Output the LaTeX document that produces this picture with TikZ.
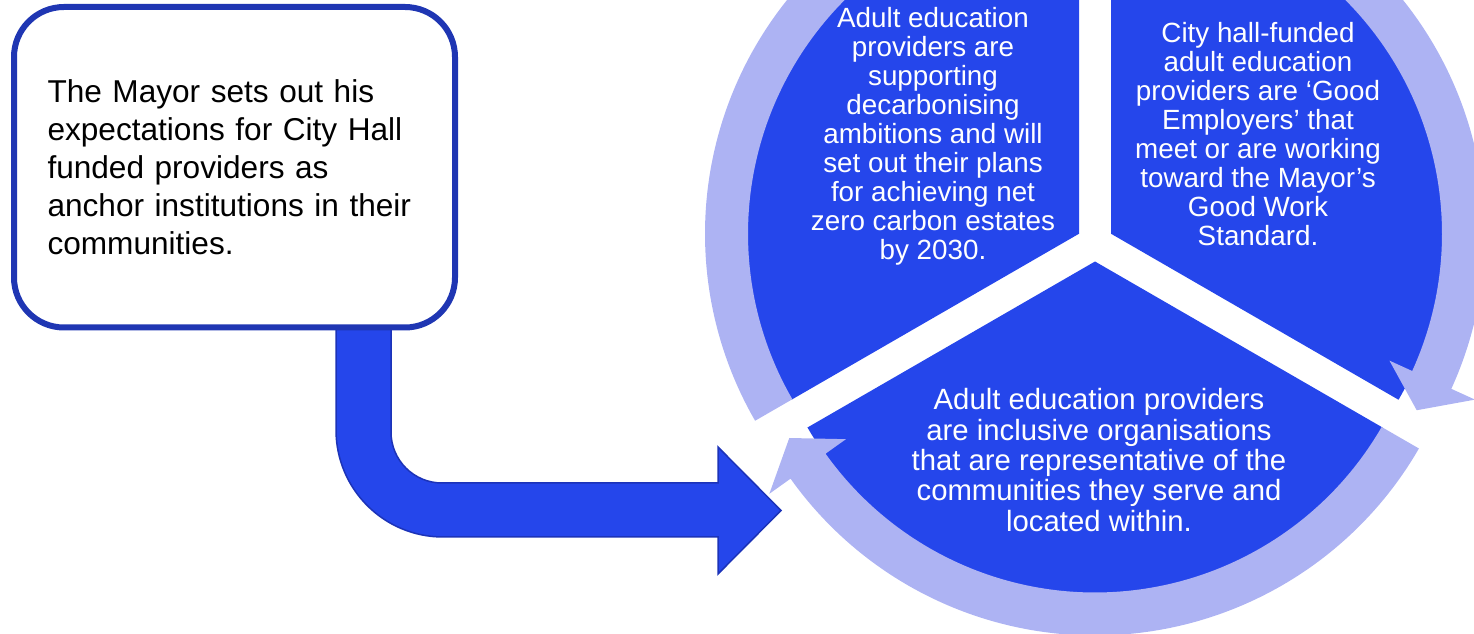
\documentclass[tikz,border=0pt]{standalone}
\usepackage{fontspec}
\setmainfont{Liberation Sans}
\definecolor{segblue}{HTML}{2546EB}
\definecolor{ringblue}{HTML}{ADB3F3}
\definecolor{boxline}{HTML}{1F36B3}
\definecolor{arrowline}{HTML}{1C33B8}
\newcommand{\RingArrow}[2]{%
  \pgfmathsetmacro{\baseang}{#2+5.5}%
  \fill[ringpart] (#1:374) arc[start angle=#1,end angle=\baseang,radius=374]
    -- (\baseang:400) -- (#2:353) -- (\baseang:306) -- (\baseang:331)
    arc[start angle=\baseang,end angle=#1,radius=331] -- cycle;}
\begin{document}
\begin{tikzpicture}[x=1pt,y=1pt,
  segment/.style={fill=segblue},
  ringpart/.style={fill=ringblue},
  segtext/.style={text=white,align=center,inner sep=0pt,font=\fontsize{27.8}{29}\selectfont},
  mayorbox/.style={draw=boxline,line width=6pt,fill=white,rounded corners=50pt,
    minimum width=441pt,minimum height=320.5pt,inner sep=0pt,text width=374pt,align=left,
    font=\fontsize{31.6}{38}\selectfont,text=black},
  bentarrow/.style={fill=segblue,draw=arrowline,line width=1.5pt,line join=miter}]
\useasboundingbox (0,0) rectangle (1474,634);
\clip (0,0) rectangle (1474,634);
\coordinate (TL) at (1079,400.25);
\coordinate (TR) at (1111,400.25);
\coordinate (B) at (1095,372.5);
% sectors
\begin{scope}[shift={(TL)}]
  \fill[segment] (0,0) -- (90:332) arc[start angle=90,end angle=210,radius=332] -- cycle;
\end{scope}
\begin{scope}[shift={(TR)}]
  \fill[segment] (0,0) -- (-30:332) arc[start angle=-30,end angle=90,radius=332] -- cycle;
\end{scope}
\begin{scope}[shift={(B)}]
  \fill[segment] (0,0) -- (210:332) arc[start angle=210,end angle=330,radius=332] -- cycle;
\end{scope}
% ring arrows
\begin{scope}[shift={(TL)}]\RingArrow{210}{90}\end{scope}
\begin{scope}[shift={(TR)}]\RingArrow{90}{-30}\end{scope}
\begin{scope}[shift={(B)}]\RingArrow{330}{210}\end{scope}
% texts
\node[segtext] (tltext) at (933,498) {Adult education\\providers are\\supporting\\decarbonising\\ambitions and will\\set out their plans\\for achieving net\\zero carbon estates\\by 2030.};
\node[segtext] (trtext) at (1258,500) {City hall-funded\\adult education\\providers are ‘Good\\Employers’ that\\meet or are working\\toward the Mayor’s\\Good Work\\Standard.};
\node[segtext,font=\fontsize{29.3}{30.3}\selectfont] (btext) at (1099,174) {Adult education providers\\are inclusive organisations\\that are representative of the\\communities they serve and\\located within.};
% bent arrow
\draw[bentarrow] (336,314) -- (336,204) arc[start angle=180,end angle=270,radius=107]
  -- (718,97) -- (718,60) -- (781,123.5) -- (718,187) -- (718,151) -- (442,151)
  arc[start angle=270,end angle=180,radius=51] -- (391,314) -- cycle;
% box
\node[mayorbox] (mayor) at (234.5,466.75) {The Mayor sets out his\\expectations for City Hall\\funded providers as\\anchor institutions in their\\communities.};
\end{tikzpicture}
\end{document}
